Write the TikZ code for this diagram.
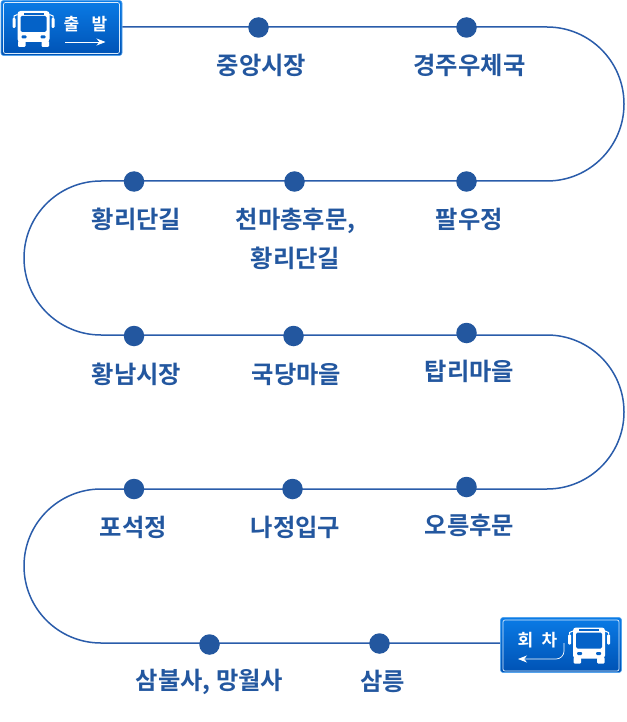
\documentclass[tikz,border=0pt]{standalone}
\usepackage{fontspec}
\usetikzlibrary{arrows.meta}
\newfontfamily\kr{Noto Sans CJK KR}[BoldFont={* Bold}]
\definecolor{trk}{HTML}{2A5CAA}
\definecolor{lbl}{HTML}{23579F}
\definecolor{signa}{HTML}{0A7BE6}
\definecolor{signb}{HTML}{0052B4}
\tikzset{
  stopdot/.style={circle,fill=lbl,inner sep=0pt,minimum size=20.5pt},
  stoplabel/.style={font=\kr\bfseries\fontsize{24.3pt}{39pt}\selectfont,text=lbl,align=center,inner sep=0pt},
  track/.style={draw=trk,line width=1.5pt},
  signbox/.style={rounded corners=2.5pt,top color=signa,bottom color=signb,draw=signa!70!white,line width=.6pt},
  signline/.style={draw=white!85!signa,line width=.7pt,rounded corners=2pt},
  signtext/.style={font=\kr\bfseries\fontsize{17pt}{17pt}\selectfont,text=white,inner sep=0pt},
  pics/bus/.style={code={
    \fill[white,rounded corners=3pt] (-16,-18) rectangle (16,13);
    \fill[white,rounded corners=1pt] (-15.5,12) rectangle (-8,18);
    \fill[white,rounded corners=1pt] (8,12) rectangle (15.5,18);
    \fill[white,rounded corners=1pt] (-21,-11) rectangle (-18,-1);
    \fill[white,rounded corners=1pt] (18,-11) rectangle (21,-1);
    \draw[white,line width=1pt] (-19.5,-11) -- (-19.5,-13) -- (-16,-14.5);
    \draw[white,line width=1pt] (19.5,-11) -- (19.5,-13) -- (16,-14.5);
    \fill[signb!60!signa] (-10,-16.3) rectangle (10,-14.3);
    \fill[signb!60!signa,rounded corners=1.5pt] (-13,-13) rectangle (13,3);
    \fill[signb!60!signa,rounded corners=1pt] (-12,6.5) rectangle (-7,9.5);
    \fill[signb!60!signa,rounded corners=1pt] (7,6.5) rectangle (12,9.5);
  }}
}
\begin{document}
\begin{tikzpicture}[x=1pt,y=-1pt]
\useasboundingbox (0,0) rectangle (626,722);
% sign nodes
\node[signbox,minimum width=121pt,minimum height=55pt,inner sep=0pt] (start) at (61.5,28) {};
\node[signbox,minimum width=121pt,minimum height=55pt,inner sep=0pt] (turn) at (561,645) {};
% corner coordinates of the track
\coordinate (r1a) at (547,27);
\coordinate (l1a) at (101,181);
\coordinate (r2a) at (547,335);
\coordinate (l2a) at (101,489);
\coordinate (l2b) at (101,643);
\draw[track] (start.east|-r1a) -- (r1a) arc[start angle=90,end angle=-90,radius=77pt] -- (l1a)
  arc[start angle=90,end angle=270,radius=77pt] -- (r2a)
  arc[start angle=90,end angle=-90,radius=77pt] -- (l2a)
  arc[start angle=90,end angle=270,radius=77pt] -- (turn.west|-l2b);
% stops
\node[stopdot] (s1) at (258.5,27.5) {};
\node[stopdot] (s2) at (466.5,27.5) {};
\node[stopdot] (s3) at (466.5,181.5) {};
\node[stopdot] (s4) at (294.5,181.5) {};
\node[stopdot] (s5) at (134,181.5) {};
\node[stopdot] (s6) at (134,336) {};
\node[stopdot] (s7) at (293.5,336) {};
\node[stopdot] (s8) at (466.5,333) {};
\node[stopdot] (s9) at (466.5,487) {};
\node[stopdot] (s10) at (292.5,489) {};
\node[stopdot] (s11) at (134,489) {};
\node[stopdot] (s12) at (209.5,644.5) {};
\node[stopdot] (s13) at (379.5,643.5) {};
% labels
\node[stoplabel] (t1) at (261.5,65) {중앙시장};
\node[stoplabel] (t2) at (469.5,65) {경주우체국};
\node[stoplabel] (t3) at (469.5,219) {팔우정};
\node[stoplabel] (t4) at (295.5,239) {천마총후문,\\황리단길};
\node[stoplabel] (t5) at (136.5,219) {황리단길};
\node[stoplabel] (t6) at (136.5,374) {황남시장};
\node[stoplabel] (t7) at (296.5,374) {국당마을};
\node[stoplabel] (t8) at (469.5,371) {탑리마을};
\node[stoplabel] (t9) at (469.5,525) {오릉후문};
\node[stoplabel] (t10) at (295.5,527) {나정입구};
\node[stoplabel] (t11) at (133.5,527) {포석정};
\node[stoplabel] (t12) at (209.5,682) {삼불사, 망월사};
\node[stoplabel] (t13) at (382.5,681) {삼릉};
% start sign
\draw[signline] (3.5,2.5) rectangle (119.5,53.5);
\pic at (33.5,29) {bus};
\node[signtext] (st1) at (71.5,24) {출};
\node[signtext] (st2) at (99.5,24) {발};
\coordinate (sa) at (65,42);
\coordinate (sb) at (105.5,42);
\draw[white,line width=.7pt,-{Stealth[length=9pt,width=7pt]}] (sa) -- (sb);
% turn sign
\draw[signline] (503,620) rectangle (619,671);
\pic at (589,645.5) {bus};
\node[signtext] (tt1) at (525.5,640) {회};
\node[signtext] (tt2) at (549.5,640) {차};
\coordinate (ta) at (564,643);
\coordinate (tb) at (518,659);
\draw[white,line width=.7pt,-{Stealth[length=9pt,width=7pt]}] (ta) -- (564,651) arc[start angle=0,end angle=-90,radius=8pt] -- (tb);
\end{tikzpicture}
\end{document}
